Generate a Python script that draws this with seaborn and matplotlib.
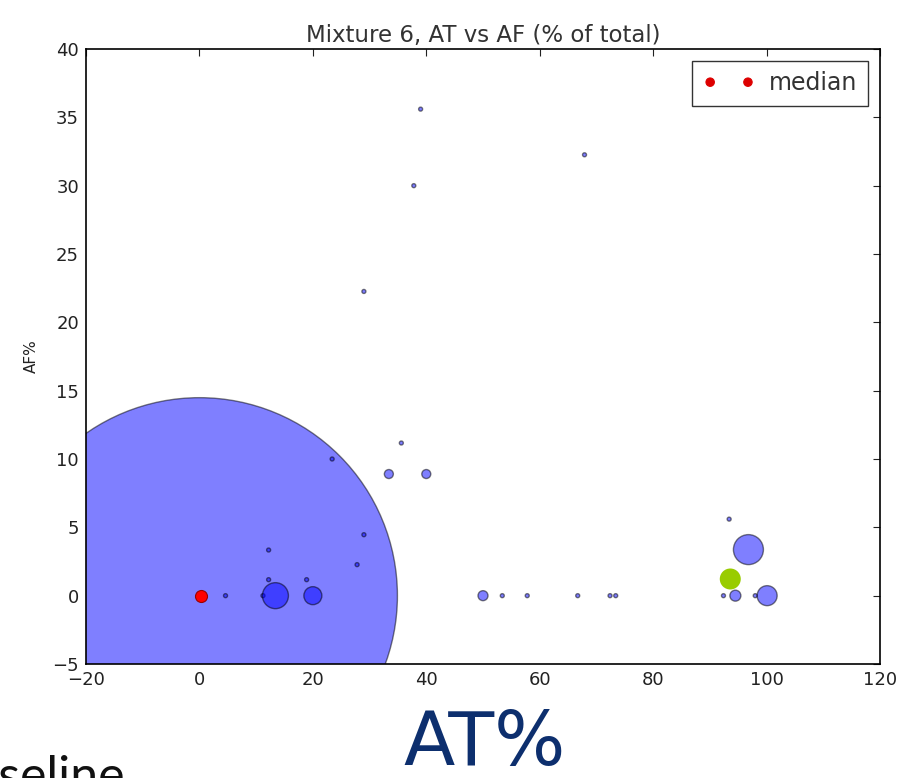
import matplotlib
matplotlib.use("Agg")
import matplotlib.pyplot as plt
import seaborn as sns
import pandas as pd
import numpy as np

# ---- data ----
at_pct = [0.0, 4.6, 11.2, 12.2, 12.2, 13.4, 20.0, 18.9, 23.4, 27.8, 29.0, 33.4, 40.0,
          35.6, 29.0, 37.8, 39.0, 67.9, 50.0, 53.4, 57.8, 66.7, 72.4, 73.4,
          92.4, 94.5, 98.0, 100.1, 96.8, 93.4]
af_pct = [0.0, 0.0, 0.0, 1.17, 3.34, 0.0, 0.0, 1.17, 10.0, 2.27, 4.46, 8.9, 8.9,
          11.17, 22.26, 30.0, 35.6, 32.26, 0.0, 0.0, 0.0, 0.0, 0.0, 0.0,
          0.0, 0.0, 0.0, 0.0, 3.37, 5.6]
# marker diameters in pixels
diam_px = [396, 4, 4, 4, 4, 26, 18, 4, 4, 4, 4, 9, 9,
           4, 4, 4, 4, 4, 10, 4, 4, 4, 4, 4,
           4, 11, 4, 20, 30, 4]
median_at = [0.2]
median_af = [0.0]
highlight_at = [93.6]
highlight_af = [1.22]

title = "Mixture 6, AT vs AF (% of total)"

df = pd.DataFrame({"AT": at_pct, "AF": af_pct, "d": diam_px})
df["s"] = (df["d"] * 0.72) ** 2

sns.set_style("white")
plt.rcParams["font.family"] = ["DejaVu Sans"]

fig = plt.figure(figsize=(9.14, 7.78), dpi=100)
ax = fig.add_axes([86 / 914, 1 - 664 / 778, (880 - 86) / 914, (664 - 49) / 778])

sns.scatterplot(data=df, x="AT", y="AF", s=df["s"].values, color="#0000ff", alpha=0.5,
                edgecolor="black", linewidth=1.0, ax=ax, legend=False, zorder=2)
sns.scatterplot(x=median_at, y=median_af, s=(12 * 0.72) ** 2, color="#ff0000",
                edgecolor="#990000", linewidth=0.8, ax=ax, label="median", zorder=3)
sns.scatterplot(x=highlight_at, y=highlight_af, s=(21 * 0.72) ** 2, color="#99cc00",
                edgecolor="none", ax=ax, legend=False, zorder=4)

ax.set_xlim(-20, 120)
ax.set_ylim(-5, 40)
ax.set_xticks(np.arange(-20, 121, 20))
ax.set_yticks(np.arange(-5, 41, 5))
ax.set_xticklabels(["\u221220", "0", "20", "40", "60", "80", "100", "120"])
ax.set_yticklabels(["\u22125", "0", "5", "10", "15", "20", "25", "30", "35", "40"])
ax.tick_params(direction="in", length=5, width=0.8, top=True, right=True,
               labelsize=13, colors="#222222", pad=5)
for sp in ax.spines.values():
    sp.set_color("black")
    sp.set_linewidth(1.2)

ax.set_xlabel("")
ax.set_ylabel("AF%", fontsize=11, color="#222222", labelpad=10)
ax.set_title(title, fontsize=16.5, color="#333333", pad=5)

leg = ax.legend(loc="upper right", scatterpoints=2, scatteryoffsets=[0.5],
                markerscale=0.7, fontsize=17,
                frameon=True, fancybox=False, borderpad=0.45, handletextpad=0.6,
                handlelength=2.2, labelcolor="#333333", borderaxespad=0.5)
leg.get_frame().set_edgecolor("black")
leg.get_frame().set_linewidth(1.0)
for h in leg.legend_handles:
    h.set_color("#dd0000")

fig.text(485 / 914, 1 - 765 / 778, "AT%", ha="center", va="baseline",
         fontsize=54, color="#0d2f6e", family=["Liberation Sans Narrow", "DejaVu Sans"])
fig.text(125 / 914, -14 / 778, "Baseline", ha="right", va="baseline",
         fontsize=36, color="#111111", family=["Lato", "DejaVu Sans"])

fig.savefig("out.png", dpi=100)
